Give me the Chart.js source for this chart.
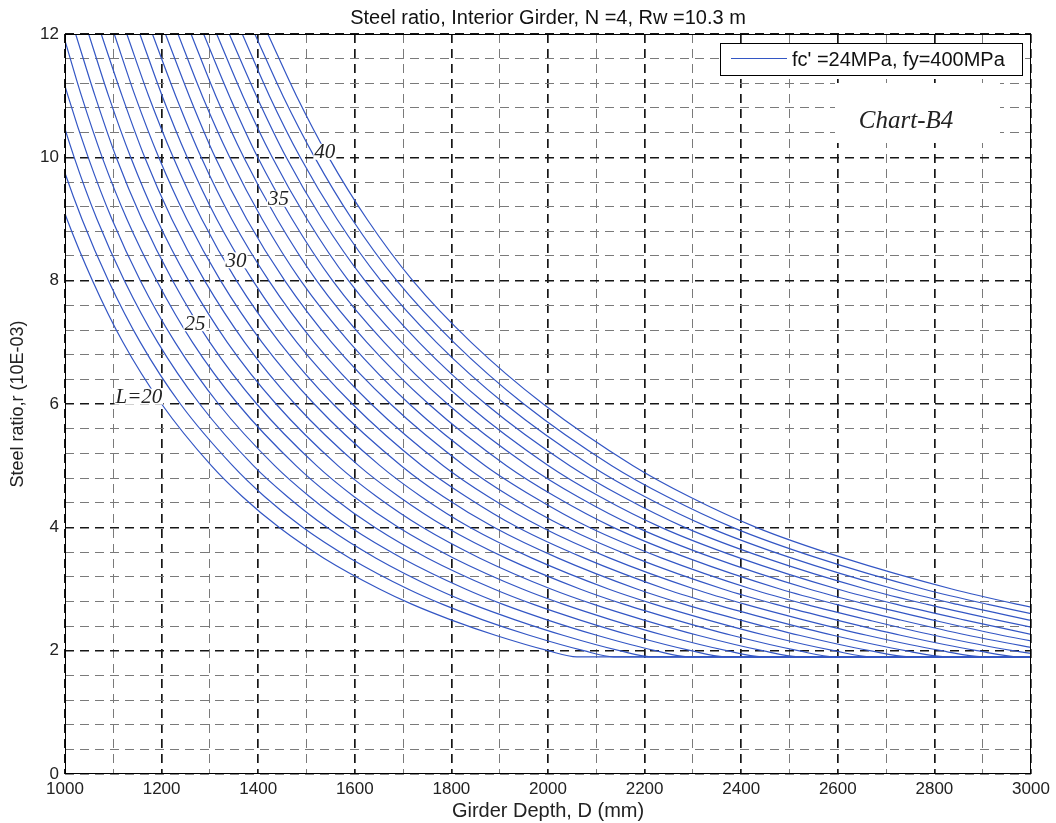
<!DOCTYPE html>
<html>
<head>
<meta charset="utf-8">
<title>Steel ratio, Interior Girder</title>
<script src="https://cdn.jsdelivr.net/npm/chart.js@4.4.1/dist/chart.umd.min.js"></script>
<style>
    html, body { margin: 0; padding: 0; background: #fff; }
</style>
</head>
<body>
<canvas id="myChart" width="1056" height="823"></canvas>
<script>
// span length L (m) of each curve
let spans = [20, 21, 22, 23, 24, 25, 26, 27, 28, 29, 30, 31, 32, 33, 34, 35, 36, 37, 38, 39, 40];

// steel ratio levels (x10^-3); every curve lists the girder depth (mm) where it passes them
let ratioLevels = [12, 11, 10, 9, 8, 7, 6, 5, 4.5, 4, 3.5, 3, 2.75, 2.5, 2.25, 2, 1.9];
let minRatio = 1.9;

let depthL20 = [890, 923, 960, 1004, 1057, 1120, 1200, 1303, 1367, 1443, 1536, 1651, 1719, 1799, 1891, 2000, 2060];
let depthL21 = [917, 951, 989, 1035, 1090, 1156, 1239, 1347, 1413, 1492, 1590, 1710, 1782, 1865, 1961, 2074, 2136];
let depthL22 = [943, 979, 1019, 1066, 1123, 1192, 1279, 1390, 1460, 1542, 1644, 1769, 1844, 1932, 2031, 2148, 2213];
let depthL23 = [970, 1006, 1048, 1097, 1156, 1228, 1318, 1434, 1506, 1591, 1698, 1829, 1907, 1998, 2101, 2222, 2289];
let depthL24 = [996, 1034, 1077, 1128, 1190, 1264, 1358, 1478, 1552, 1641, 1751, 1888, 1970, 2065, 2171, 2296, 2365];
let depthL25 = [1022, 1062, 1106, 1159, 1223, 1300, 1397, 1521, 1598, 1690, 1805, 1947, 2033, 2131, 2240, 2370, 2442];
let depthL26 = [1049, 1090, 1136, 1190, 1256, 1336, 1437, 1565, 1645, 1740, 1859, 2006, 2095, 2197, 2310, 2444, 2518];
let depthL27 = [1075, 1118, 1165, 1221, 1289, 1372, 1476, 1608, 1691, 1789, 1913, 2066, 2158, 2264, 2380, 2518, 2594];
let depthL28 = [1102, 1145, 1194, 1252, 1322, 1408, 1516, 1652, 1737, 1838, 1967, 2125, 2221, 2330, 2450, 2592, 2670];
let depthL29 = [1128, 1173, 1224, 1283, 1355, 1444, 1555, 1696, 1783, 1888, 2021, 2184, 2283, 2397, 2520, 2666, 2747];
let depthL30 = [1155, 1201, 1253, 1314, 1389, 1480, 1595, 1739, 1830, 1937, 2075, 2243, 2346, 2463, 2590, 2740, 2823];
let depthL31 = [1181, 1229, 1282, 1345, 1422, 1516, 1634, 1783, 1876, 1987, 2128, 2303, 2409, 2529, 2660, 2814, 2899];
let depthL32 = [1208, 1257, 1311, 1376, 1455, 1552, 1674, 1827, 1922, 2036, 2182, 2362, 2472, 2596, 2730, 2888, 2976];
let depthL33 = [1234, 1284, 1341, 1408, 1488, 1589, 1713, 1870, 1969, 2085, 2236, 2421, 2534, 2662, 2799, 2962, 3052];
let depthL34 = [1261, 1312, 1370, 1439, 1521, 1625, 1753, 1914, 2015, 2135, 2290, 2480, 2597, 2728, 2869, 3036];
let depthL35 = [1287, 1340, 1399, 1470, 1554, 1661, 1792, 1958, 2061, 2184, 2344, 2540, 2660, 2795, 2939, 3110];
let depthL36 = [1314, 1368, 1429, 1501, 1587, 1697, 1832, 2001, 2107, 2234, 2398, 2599, 2722, 2861, 3009];
let depthL37 = [1340, 1396, 1458, 1532, 1621, 1733, 1871, 2045, 2154, 2283, 2451, 2658, 2785, 2928, 3079];
let depthL38 = [1367, 1423, 1487, 1563, 1654, 1769, 1911, 2089, 2200, 2333, 2505, 2717, 2848, 2994, 3149];
let depthL39 = [1393, 1451, 1517, 1594, 1687, 1805, 1950, 2132, 2246, 2382, 2559, 2777, 2911, 3061];
let depthL40 = [1420, 1479, 1546, 1625, 1720, 1841, 1990, 2176, 2292, 2431, 2613, 2836, 2973, 3127];

let depthRows = [depthL20, depthL21, depthL22, depthL23, depthL24, depthL25, depthL26, depthL27, depthL28, depthL29, depthL30,
    depthL31, depthL32, depthL33, depthL34, depthL35, depthL36, depthL37, depthL38, depthL39, depthL40];

// inline curve labels
let curveLabels = ['L=20', '25', '30', '35', '40'];
let curveLabelDepth = [1153, 1269, 1354, 1442, 1538];
let curveLabelRatio = [6.12, 7.31, 8.33, 9.33, 10.09];

let depthMin = 1000;
let depthMax = 3000;

const sans = '"Liberation Sans", Arial, Helvetica, sans-serif';
const serif = '"Liberation Serif", "Times New Roman", serif';
const lineBlue = '#3356c4';

Chart.defaults.font.family = sans;

function buildDatasets() {
    let sets = [];
    for (let j = 0; j < spans.length; j++) {
        let row = depthRows[j];
        let points = [];
        for (let i = 0; i < row.length; i++) {
            points.push({ x: row[i], y: ratioLevels[i] });
        }
        // curve sits on the minimum steel ratio until the end of the axis
        if (row.length == ratioLevels.length && row[row.length - 1] < depthMax) {
            points.push({ x: depthMax, y: minRatio });
        }
        sets.push({
            label: 'L=' + spans[j],
            data: points,
            borderColor: lineBlue,
            borderWidth: 1.2,
            pointRadius: 0,
            fill: false,
            cubicInterpolationMode: 'monotone'
        });
    }
    return sets;
}

function isMajorY(v) {
    return Math.abs(v / 2 - Math.round(v / 2)) < 1e-6;
}

function isMajorX(v) {
    return Math.round(v) % 200 === 0;
}

// title, frame, curve labels, note and legend
const decorations = {
    id: 'decorations',
    afterDatasetsDraw(chart) {
        const ctx = chart.ctx;
        const area = chart.chartArea;
        const xs = chart.scales.x;
        const ys = chart.scales.y;

        ctx.save();

        // curve labels, each on a white patch that breaks the line
        ctx.font = 'italic 21px ' + serif;
        ctx.textAlign = 'center';
        ctx.textBaseline = 'middle';
        for (let i = 0; i < curveLabels.length; i++) {
            let px = xs.getPixelForValue(curveLabelDepth[i]);
            let py = ys.getPixelForValue(curveLabelRatio[i]);
            let w = ctx.measureText(curveLabels[i]).width;
            ctx.fillStyle = '#fff';
            ctx.fillRect(px - w / 2 - 1, py - 8, w + 2, 16);
            ctx.fillStyle = '#222';
            ctx.fillText(curveLabels[i], px, py + 1);
        }

        // chart number note
        ctx.fillStyle = '#fff';
        ctx.fillRect(area.right - 196, area.top + 49, 165, 60);
        ctx.fillStyle = '#222';
        ctx.font = 'italic 25px ' + serif;
        ctx.fillText('Chart-B4', area.right - 125, area.top + 87);

        // axes box
        ctx.strokeStyle = '#000';
        ctx.lineWidth = 1;
        ctx.strokeRect(area.left + 0.5, area.top + 0.5, area.right - area.left - 1, area.bottom - area.top - 1);

        // legend
        let lx = area.right - 311;
        let ly = area.top + 9;
        ctx.fillStyle = '#fff';
        ctx.fillRect(lx, ly, 302, 32);
        ctx.strokeRect(lx + 0.5, ly + 0.5, 302, 32);
        ctx.strokeStyle = lineBlue;
        ctx.beginPath();
        ctx.moveTo(lx + 11, ly + 15.5);
        ctx.lineTo(lx + 67, ly + 15.5);
        ctx.stroke();
        ctx.fillStyle = '#111';
        ctx.font = '20px ' + sans;
        ctx.textAlign = 'left';
        ctx.fillText("fc' =24MPa, fy=400MPa", lx + 72, ly + 17);

        // chart title centred over the plot
        ctx.textAlign = 'center';
        ctx.fillText('Steel ratio, Interior Girder, N =4, Rw =10.3 m', (area.left + area.right) / 2, 18);

        ctx.restore();
    }
};

function renderChart() {
    const ctx = document.getElementById('myChart');

    new Chart(ctx, {
        type: 'line',
        data: {
            datasets: buildDatasets()
        },
        options: {
            responsive: false,
            animation: false,
            layout: {
                padding: { top: 34, right: 25, bottom: 0, left: 0 }
            },
            plugins: {
                legend: { display: false },
                tooltip: { enabled: false }
            },
            scales: {
                x: {
                    type: 'linear',
                    min: depthMin,
                    max: depthMax,
                    afterFit: function (axis) { axis.height = 49; },
                    ticks: {
                        stepSize: 100,
                        autoSkip: false,
                        maxRotation: 0,
                        padding: 5,
                        color: '#222',
                        font: { size: 17 },
                        callback: function (v) { return isMajorX(v) ? String(v) : ''; }
                    },
                    grid: {
                        drawTicks: false,
                        color: function (c) { return isMajorX(c.tick.value) ? '#161616' : '#7a7a7a'; },
                        lineWidth: function (c) { return isMajorX(c.tick.value) ? 1.7 : 1; }
                    },
                    border: { display: false, dash: [9, 6] },
                    title: {
                        display: true,
                        text: 'Girder Depth, D (mm)',
                        color: '#222',
                        font: { size: 20 },
                        padding: { top: 0, bottom: 0 }
                    }
                },
                y: {
                    type: 'linear',
                    min: 0,
                    max: 12,
                    afterFit: function (axis) { axis.width = 65; },
                    ticks: {
                        stepSize: 0.4,
                        autoSkip: false,
                        padding: 6,
                        color: '#222',
                        font: { size: 17 },
                        callback: function (v) { return isMajorY(v) ? String(Math.round(v)) : ''; }
                    },
                    grid: {
                        drawTicks: false,
                        color: function (c) { return isMajorY(c.tick.value) ? '#161616' : '#7a7a7a'; },
                        lineWidth: function (c) { return isMajorY(c.tick.value) ? 1.5 : 1; }
                    },
                    border: { display: false, dash: [9, 6] },
                    title: {
                        display: true,
                        text: 'Steel ratio,r (10E-03)',
                        color: '#222',
                        font: { size: 18 },
                        padding: { top: 7, bottom: 0 }
                    }
                }
            }
        },
        plugins: [decorations]
    });
}

renderChart();
</script>
</body>
</html>
